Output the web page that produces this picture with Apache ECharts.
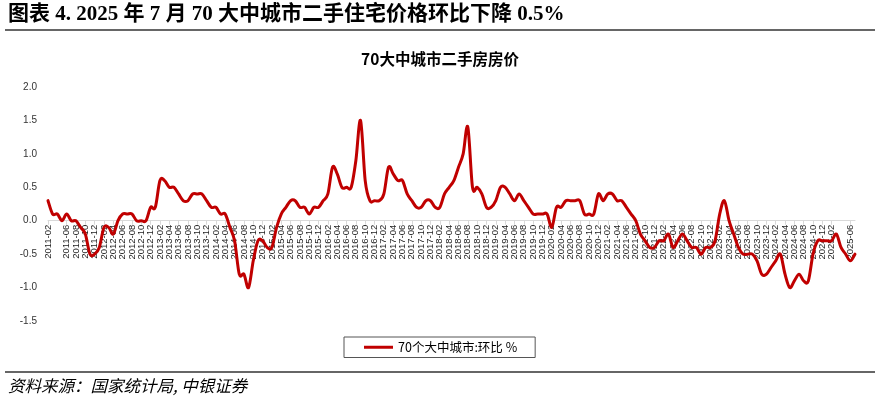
<!DOCTYPE html>
<html><head><meta charset="utf-8">
<script src="https://cdn.jsdelivr.net/npm/echarts@6/dist/echarts.min.js"></script>
<style>html,body{margin:0;padding:0;background:#fff}#c{width:880px;height:399px}</style>
</head><body><div id="c"></div>
<script>
const pageTitle = '图表 4. 2025 年 7 月 70 大中城市二手住宅价格环比下降 0.5%';
const chartTitle = '70大中城市二手房房价';
const sourceNote = '资料来源：国家统计局, 中银证券';
const seriesName = '70个大中城市:环比 %';

const months = [
 '2011-02','2011-03','2011-04','2011-05','2011-06','2011-07','2011-08','2011-09','2011-10','2011-11','2011-12',
 '2012-01','2012-02','2012-03','2012-04','2012-05','2012-06','2012-07','2012-08','2012-09','2012-10','2012-11','2012-12',
 '2013-01','2013-02','2013-03','2013-04','2013-05','2013-06','2013-07','2013-08','2013-09','2013-10','2013-11','2013-12',
 '2014-01','2014-02','2014-03','2014-04','2014-05','2014-06','2014-07','2014-08','2014-09','2014-10','2014-11','2014-12',
 '2015-01','2015-02','2015-03','2015-04','2015-05','2015-06','2015-07','2015-08','2015-09','2015-10','2015-11','2015-12',
 '2016-01','2016-02','2016-03','2016-04','2016-05','2016-06','2016-07','2016-08','2016-09','2016-10','2016-11','2016-12',
 '2017-01','2017-02','2017-03','2017-04','2017-05','2017-06','2017-07','2017-08','2017-09','2017-10','2017-11','2017-12',
 '2018-01','2018-02','2018-03','2018-04','2018-05','2018-06','2018-07','2018-08','2018-09','2018-10','2018-11','2018-12',
 '2019-01','2019-02','2019-03','2019-04','2019-05','2019-06','2019-07','2019-08','2019-09','2019-10','2019-11','2019-12',
 '2020-01','2020-02','2020-03','2020-04','2020-05','2020-06','2020-07','2020-08','2020-09','2020-10','2020-11','2020-12',
 '2021-01','2021-02','2021-03','2021-04','2021-05','2021-06','2021-07','2021-08','2021-09','2021-10','2021-11','2021-12',
 '2022-01','2022-02','2022-03','2022-04','2022-05','2022-06','2022-07','2022-08','2022-09','2022-10','2022-11','2022-12',
 '2023-01','2023-02','2023-03','2023-04','2023-05','2023-06','2023-07','2023-08','2023-09','2023-10','2023-11','2023-12',
 '2024-01','2024-02','2024-03','2024-04','2024-05','2024-06','2024-07','2024-08','2024-09','2024-10','2024-11','2024-12',
 '2025-01','2025-02','2025-03','2025-04','2025-05','2025-06','2025-07'
];

const momChange = [
 0.3, 0.1, 0.1, 0.0, 0.1, 0.0, 0.0, -0.1, -0.2, -0.5, -0.5,
 -0.4, -0.1, -0.1, -0.2, 0.0, 0.1, 0.1, 0.1, 0.0, 0.0, 0.0, 0.2,
 0.2, 0.6, 0.6, 0.5, 0.5, 0.4, 0.3, 0.3, 0.4, 0.4, 0.4, 0.3,
 0.2, 0.2, 0.1, 0.1, -0.1, -0.3, -0.8, -0.8, -1.0, -0.6, -0.3, -0.3,
 -0.4, -0.4, -0.1, 0.1, 0.2, 0.3, 0.3, 0.2, 0.2, 0.1, 0.2, 0.2,
 0.3, 0.4, 0.8, 0.7, 0.5, 0.5, 0.5, 0.9, 1.5, 0.6, 0.3, 0.3,
 0.3, 0.4, 0.8, 0.7, 0.6, 0.6, 0.4, 0.3, 0.2, 0.2, 0.3, 0.3,
 0.2, 0.2, 0.4, 0.5, 0.6, 0.8, 1.0, 1.4, 0.5, 0.5, 0.4, 0.2,
 0.2, 0.3, 0.5, 0.5, 0.4, 0.3, 0.4, 0.3, 0.2, 0.1, 0.1, 0.1,
 0.1, -0.1, 0.2, 0.2, 0.3, 0.3, 0.3, 0.3, 0.1, 0.1, 0.1, 0.4,
 0.3, 0.4, 0.4, 0.3, 0.3, 0.2, 0.1, 0.0, -0.2, -0.3, -0.4, -0.4,
 -0.3, -0.3, -0.2, -0.4, -0.3, -0.2, -0.3, -0.4, -0.4, -0.5, -0.4, -0.4,
 -0.3, 0.1, 0.3, 0.0, -0.2, -0.4, -0.5, -0.5, -0.5, -0.6, -0.8, -0.8,
 -0.7, -0.6, -0.5, -0.8, -1.0, -0.9, -0.8, -0.9, -0.9, -0.5, -0.3, -0.3,
 -0.3, -0.3, -0.2, -0.4, -0.5, -0.6, -0.5
];

const yMin = -1.5, yMax = 2.0, yStep = 0.5;
const lineColor = '#C00000';

const W = 880, H = 399;
const gridTop = 87, gridBottom = 78, gridLeft = 48, gridRight = 25;
const plotH = H - gridTop - gridBottom;
const zeroOffset = plotH * (0 - yMin) / (yMax - yMin);
const everyOther = idx => idx % 2 === 0;

function renderCurve(params, api) {
  if (params.dataIndex !== 0) return null;
  const pts = momChange.map((v, i) => api.coord([i, v]));
  const n = pts.length;
  let d = 'M' + pts[0][0] + ' ' + pts[0][1];
  for (let i = 0; i < n - 1; i++) {
    const p0 = pts[Math.max(i - 1, 0)], p1 = pts[i], p2 = pts[i + 1], p3 = pts[Math.min(i + 2, n - 1)];
    const c1x = p1[0] + (p2[0] - p0[0]) / 6, c1y = p1[1] + (p2[1] - p0[1]) / 6;
    const c2x = p2[0] - (p3[0] - p1[0]) / 6, c2y = p2[1] - (p3[1] - p1[1]) / 6;
    d += ' C' + c1x + ' ' + c1y + ' ' + c2x + ' ' + c2y + ' ' + p2[0] + ' ' + p2[1];
  }
  return {
    type: 'path',
    shape: {pathData: d},
    style: {stroke: lineColor, lineWidth: 3, fill: 'none', lineJoin: 'round', lineCap: 'round'}
  };
}

const chart = echarts.init(document.getElementById('c'), null, {renderer: 'canvas'});
chart.setOption({
  animation: false,
  backgroundColor: '#fff',
  title: {
    text: chartTitle, left: 'center', top: 46,
    textStyle: {fontSize: 15.5, fontWeight: 'bold', color: '#000', fontFamily: '"Noto Sans CJK SC"'}
  },
  graphic: [
    {type: 'text', left: 8, top: 4, style: {text: pageTitle, font: 'bold 21px "Liberation Serif", "Noto Sans CJK SC"', fill: '#000'}},
    {type: 'line', shape: {x1: 5, y1: 30, x2: 875, y2: 30}, style: {stroke: '#333', lineWidth: 1.5}},
    {type: 'line', shape: {x1: 5, y1: 372, x2: 875, y2: 372}, style: {stroke: '#333', lineWidth: 1.5}},
    {type: 'text', left: 8, top: 377, style: {text: sourceNote, font: 'italic 16.5px "Noto Sans CJK SC"', fill: '#000'}}
  ],
  legend: {
    left: 344, top: 337, data: [seriesName], icon: 'rect', itemWidth: 29, itemHeight: 3,
    padding: [4, 18, 4, 20], borderColor: '#555', borderWidth: 1, borderRadius: 0,
    textStyle: {fontSize: 12.5, color: '#000', fontFamily: '"Noto Sans CJK SC"'}
  },
  grid: {left: gridLeft, right: gridRight, top: gridTop, bottom: gridBottom},
  xAxis: {
    type: 'category', data: months, boundaryGap: false,
    offset: -zeroOffset,
    axisLine: {onZero: false, lineStyle: {color: '#d9d9d9', width: 1}},
    axisTick: {show: true, interval: everyOther, length: 4, lineStyle: {color: '#d9d9d9'}},
    axisLabel: {interval: everyOther, showMinLabel: true, showMaxLabel: true, hideOverlap: false,
      rotate: 90, fontSize: 9.5, lineHeight: 8, color: '#222', margin: 4, fontFamily: '"Liberation Sans", Arial'},
    splitLine: {show: false}
  },
  yAxis: {
    type: 'value', min: yMin, max: yMax, interval: yStep,
    axisLabel: {formatter: v => v.toFixed(1), fontSize: 10, color: '#333', margin: 11, fontFamily: '"Liberation Sans", Arial'},
    axisLine: {show: false}, axisTick: {show: false}, splitLine: {show: false}
  },
  series: [{
    type: 'custom', name: seriesName, clip: false,
    data: momChange.map((v, i) => [i, v]),
    encode: {x: 0, y: 1},
    itemStyle: {color: lineColor},
    renderItem: renderCurve
  }]
});
</script></body></html>
